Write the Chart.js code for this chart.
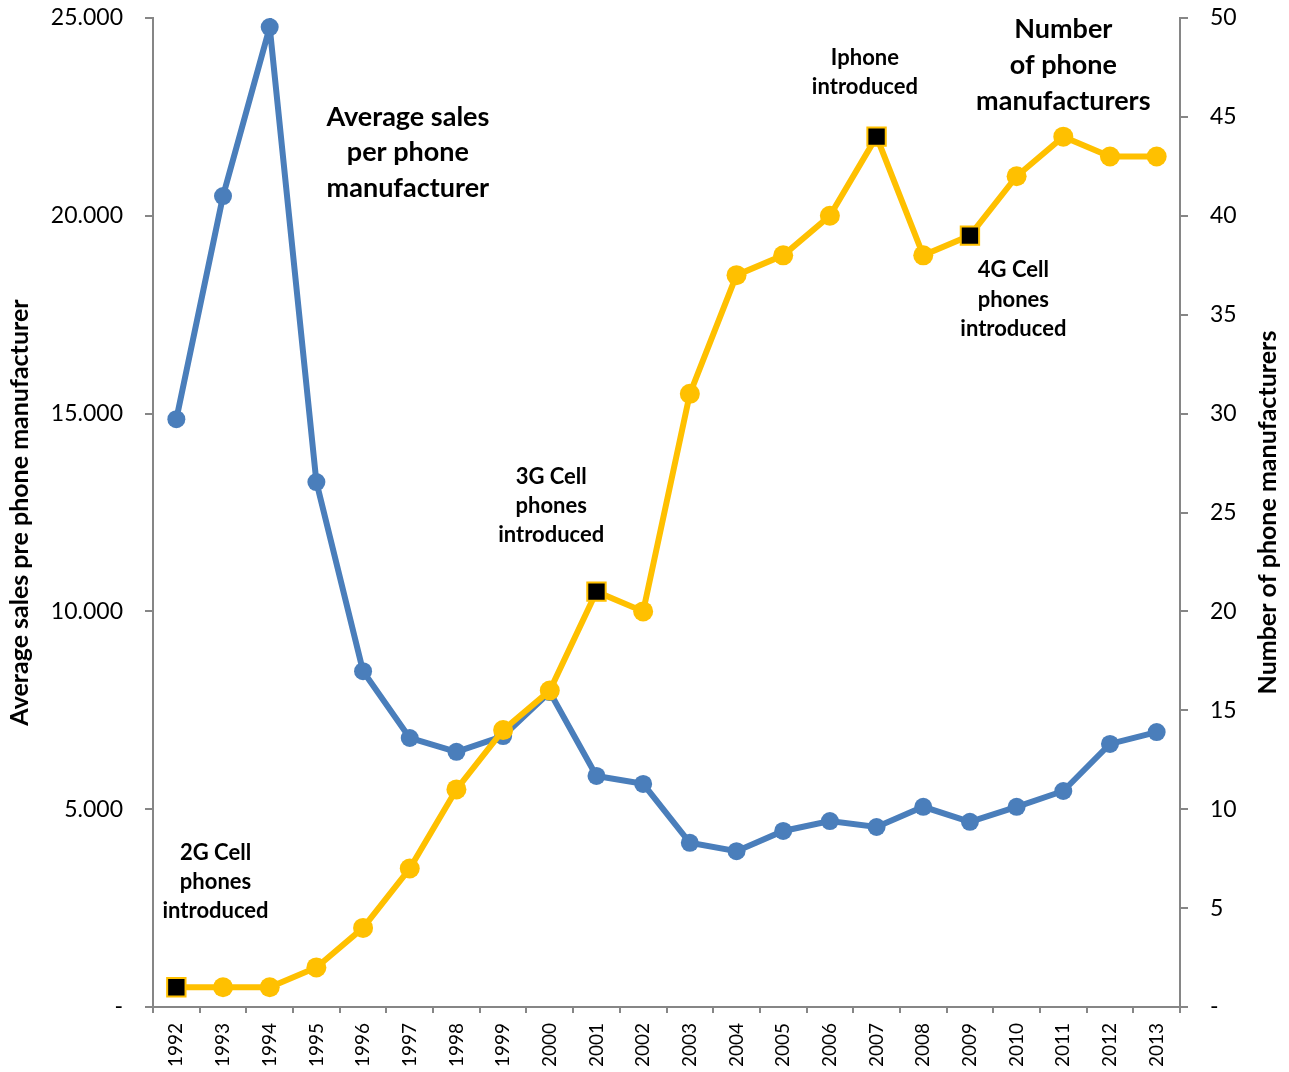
<!DOCTYPE html>
<html>
<head>
<meta charset="utf-8">
<style>
  html, body { margin: 0; padding: 0; background: #ffffff; }
  #wrap { width: 1289px; height: 1072px; }
</style>
<script src="https://cdn.jsdelivr.net/npm/chart.js@4/dist/chart.umd.min.js"></script>
</head>
<body>
<div id="wrap"><canvas id="chart" width="1289" height="1072"></canvas></div>
<script>
// Years on the category axis
const years = ['1992','1993','1994','1995','1996','1997','1998','1999','2000','2001','2002',
               '2003','2004','2005','2006','2007','2008','2009','2010','2011','2012','2013'];

// Average sales per phone manufacturer (left axis)
const avgSales = [14860, 20500, 24770, 13270, 8490, 6800, 6450, 6850, 7960, 5840, 5640,
                  4150, 3940, 4450, 4700, 4550, 5060, 4680, 5060, 5460, 6650, 6950];

// Number of phone manufacturers (right axis)
const manufacturers = [1, 1, 1, 2, 4, 7, 11, 14, 16, 21, 20,
                       31, 37, 38, 40, 44, 38, 39, 42, 44, 43, 43];

// Years in which a new technology arrived (drawn as square markers)
const milestoneYears = ['1992', '2001', '2007', '2009'];

// Axis ranges and steps
const salesMax = 25000, salesStep = 5000;
const makersMax = 50, makersStep = 5;

const BLUE = '#4A7EBB';
const GOLD = '#FFC000';
const AXIS = '#868686';
const FONT = 'Lato, "Open Sans", sans-serif';

const isMilestone = years.map(y => milestoneYears.includes(y));

function thousands(v) {
  if (v === 0) return '-';
  return String(v).replace(/\B(?=(\d{3})+(?!\d))/g, '.');
}

// Text notes, anchored to category index (x) and right-axis value (y of first line)
const notes = [
  { lines: ['Average sales', 'per phone', 'manufacturer'], x: 4.96, y: 45.0, size: 27, lh: 35.5 },
  { lines: ['Number', 'of phone', 'manufacturers'], x: 19.0, y: 49.44, size: 27, lh: 36 },
  { lines: ['Iphone', 'introduced'], x: 14.75, y: 47.98, size: 22, lh: 28.5 },
  { lines: ['4G Cell', 'phones', 'introduced'], x: 17.93, y: 37.26, size: 22, lh: 29.5 },
  { lines: ['3G Cell', 'phones', 'introduced'], x: 8.03, y: 26.8, size: 22, lh: 29 },
  { lines: ['2G Cell', 'phones', 'introduced'], x: 0.84, y: 7.79, size: 22, lh: 29 }
];

const notesPlugin = {
  id: 'notes',
  afterDraw(chart) {
    const { ctx, chartArea, scales } = chart;
    const xs = scales.x, yr = scales.yR;
    ctx.save();
    ctx.fillStyle = '#000';
    ctx.textAlign = 'center';
    ctx.textBaseline = 'middle';
    notes.forEach(n => {
      const px = xs.getPixelForValue(0) + n.x * (xs.getPixelForValue(1) - xs.getPixelForValue(0));
      const py = yr.getPixelForValue(n.y);
      ctx.font = 'bold ' + n.size + 'px ' + FONT;
      n.lines.forEach((t, i) => ctx.fillText(t, px, py + i * n.lh));
    });
    // axis titles, both reading bottom to top
    const midY = (chartArea.top + chartArea.bottom) / 2;
    ctx.font = 'bold 25px ' + FONT;
    ctx.translate(20, midY);
    ctx.rotate(-Math.PI / 2);
    ctx.fillText('Average sales pre phone manufacturer', 0, 0);
    ctx.rotate(Math.PI / 2);
    ctx.translate(-20, -midY);
    ctx.translate(1268, midY);
    ctx.rotate(-Math.PI / 2);
    ctx.fillText('Number of phone manufacturers', 0, 0);
    ctx.restore();
  }
};

// vertical axes: fixed widths, no extra vertical padding for tick labels
function fitVertical(width) {
  return s => { s.width = width; s.paddingTop = 0; s.paddingBottom = 0; };
}

new Chart(document.getElementById('chart'), {
  type: 'line',
  data: {
    labels: years,
    datasets: [
      {
        label: 'Number of phone manufacturers',
        data: manufacturers,
        yAxisID: 'yR',
        order: 0,
        borderColor: GOLD,
        borderWidth: 6,
        tension: 0,
        pointStyle: isMilestone.map(m => m ? 'rect' : 'circle'),
        pointRadius: isMilestone.map(m => m ? 13 : 10),
        pointBackgroundColor: isMilestone.map(m => m ? '#000000' : GOLD),
        pointBorderColor: GOLD,
        pointBorderWidth: isMilestone.map(m => m ? 2 : 0),
        pointHoverRadius: isMilestone.map(m => m ? 13 : 10)
      },
      {
        label: 'Average sales per phone manufacturer',
        data: avgSales,
        yAxisID: 'yL',
        order: 1,
        borderColor: BLUE,
        borderWidth: 6,
        tension: 0,
        pointStyle: 'circle',
        pointRadius: 9,
        pointHoverRadius: 9,
        pointBackgroundColor: BLUE,
        pointBorderWidth: 0
      }
    ]
  },
  options: {
    responsive: false,
    animation: false,
    events: [],
    layout: { padding: { top: 18, left: 0, right: 0, bottom: 0 } },
    plugins: { legend: { display: false }, tooltip: { enabled: false } },
    scales: {
      x: {
        offset: true,
        border: { color: AXIS, width: 2 },
        grid: { drawOnChartArea: false, drawTicks: true, tickLength: 6, color: AXIS, lineWidth: 2, offset: true },
        ticks: { color: '#000', font: { family: FONT, size: 19 }, minRotation: 90, maxRotation: 90, padding: 10, autoSkip: false },
        afterFit(s) { s.height = 65; s.paddingLeft = 0; s.paddingRight = 0; }
      },
      yL: {
        position: 'left',
        min: 0, max: salesMax,
        border: { color: AXIS, width: 2 },
        grid: { drawOnChartArea: false, drawTicks: true, tickLength: 8, color: AXIS, lineWidth: 2 },
        ticks: { stepSize: salesStep, color: '#000', font: { family: FONT, size: 23 }, padding: 22, callback: v => thousands(v) },
        afterFit: fitVertical(153)
      },
      yR: {
        position: 'right',
        min: 0, max: makersMax,
        border: { color: AXIS, width: 2 },
        grid: { drawOnChartArea: false, drawTicks: true, tickLength: 8, color: AXIS, lineWidth: 2 },
        ticks: { stepSize: makersStep, color: '#000', font: { family: FONT, size: 23 }, padding: 22, callback: v => v === 0 ? '-' : String(v) },
        afterFit: fitVertical(109)
      }
    }
  },
  plugins: [notesPlugin]
});
</script>
</body>
</html>
